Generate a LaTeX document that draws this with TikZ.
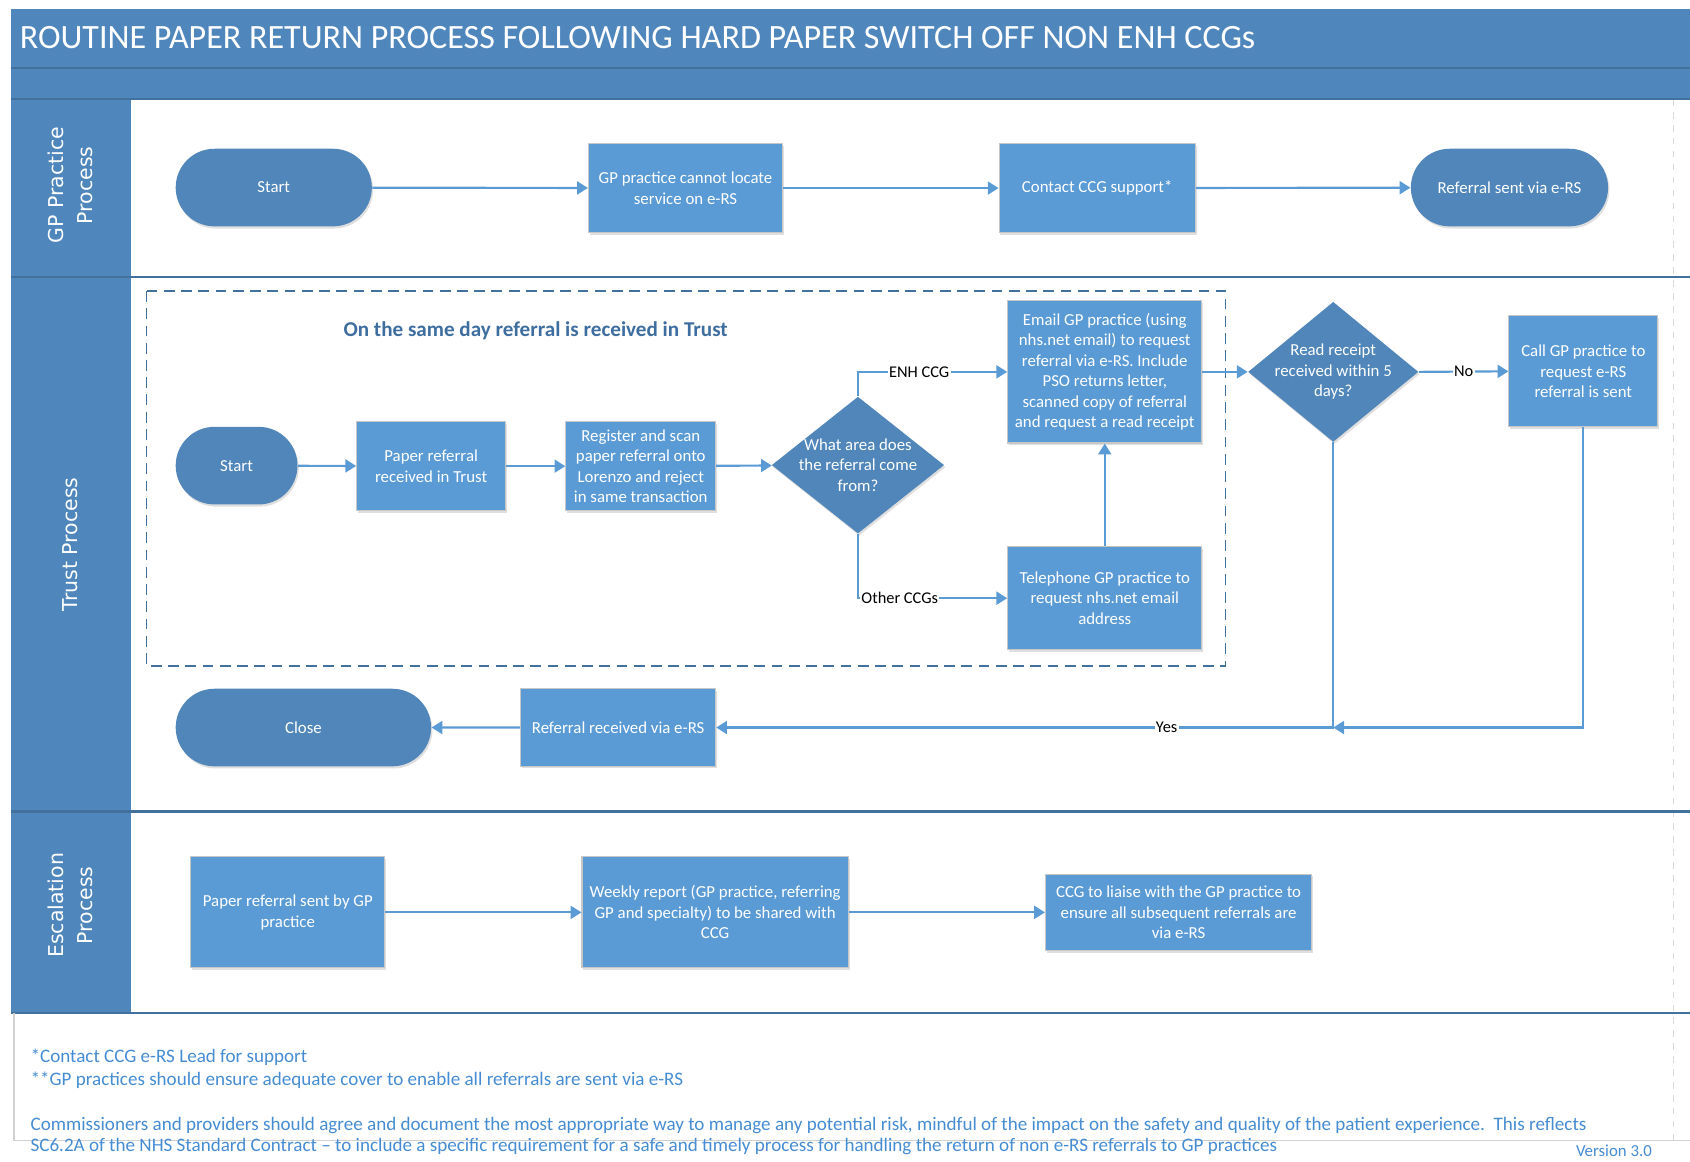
\documentclass[tikz,border=0pt]{standalone}
\usepackage{fontspec}
\setmainfont{Carlito}
\newfontfamily\lanefont{DejaVu Sans}
\usetikzlibrary{shapes.geometric,shapes.misc,arrows.meta,shadows}
\definecolor{band}{RGB}{79,135,189}
\definecolor{boxc}{RGB}{91,155,213}
\definecolor{darkc}{RGB}{80,134,185}
\definecolor{linec}{RGB}{91,155,213}
\definecolor{lanec}{RGB}{65,113,156}
\definecolor{headc}{RGB}{62,110,160}
\definecolor{footc}{RGB}{70,140,210}
\begin{document}
\begin{tikzpicture}[x=0.5pt,y=-0.5pt,
  shad/.style={drop shadow={shadow xshift=0.6pt,shadow yshift=-1pt,opacity=0.25,fill=black!50}},
  proc/.style={rectangle,fill=boxc,draw=black!22,line width=0.5pt,text=white,align=center,
    font=\fontsize{7.8}{9.5}\selectfont,inner sep=0pt,shad},
  term/.style={rounded rectangle,fill=darkc,text=white,align=center,
    font=\fontsize{7.8}{9.5}\selectfont,inner sep=0pt,shad},
  dec/.style={diamond,fill=darkc,inner sep=0pt,shad},
  dectext/.style={text=white,align=center,font=\fontsize{7.8}{9.5}\selectfont,inner sep=0pt},
  conn/.style={draw=linec,line width=1pt,-{Triangle[length=5pt,width=6pt]}},
  plain/.style={draw=linec,line width=1pt},
  clabel/.style={fill=white,inner sep=0.6pt,text=black,font=\fontsize{7.6}{9}\selectfont},
  lanelabel/.style={rotate=90,text=white,align=center,font=\lanefont\fontsize{9.5}{13.5}\selectfont},
  laneline/.style={draw=lanec,line width=1.1pt},
]
\useasboundingbox (0,0) rectangle (1568,1078);
% header bands
\fill[band] (10,8) rectangle (1568,92);
\draw[lanec,line width=0.8pt] (10,63) -- (1568,63);
\node[anchor=west,text=white,font=\fontsize{15.8}{18}\selectfont,inner sep=0pt] (title) at (18,35) {ROUTINE PAPER RETURN PROCESS FOLLOWING HARD PAPER SWITCH OFF NON ENH CCGs};
% lane label column
\fill[band] (10,92) rectangle (122,940);
% right faint border
\draw[black!15,dashed,line width=0.5pt] (1553,92) -- (1553,1058);
% lane lines
\draw[laneline] (10,92) -- (1568,92);
\draw[laneline] (10,257) -- (1568,257);
\draw[laneline] (10,753) -- (1568,753);
\draw[laneline] (10,940) -- (1568,940);
% lane labels
\node[lanelabel] (lgp) at (65,172) {GP Practice\\Process};
\node[lanelabel] (ltr) at (65,505) {Trust Process};
\node[lanelabel] (les) at (65,840) {Escalation\\Process};

% ---------- GP lane
\node[term,minimum width=91pt,minimum height=36pt] (gstart) at (254,174) {Start};
\node[proc,minimum width=90pt,minimum height=41.5pt] (gloc) at (636,174.5) {GP practice cannot locate\\service on e-RS};
\node[proc,minimum width=91pt,minimum height=41.5pt] (gccg) at (1018,174.5) {Contact CCG support*};
\node[term,minimum width=91.5pt,minimum height=36pt] (gsent) at (1400.5,174) {Referral sent via e-RS};
\draw[conn] (gstart) -- (gloc);
\draw[conn] (gloc) -- (gccg);
\draw[conn] (gccg) -- (gsent);

% ---------- Trust lane
\draw[lanec,dashed,line width=0.8pt,dash pattern=on 5pt off 3pt] (136,270) rectangle (1137,618);
\node[text=headc,font=\bfseries\fontsize{9.8}{12}\selectfont] (boxtitle) at (497,307) {On the same day referral is received in Trust};

\node[term,minimum width=56.5pt,minimum height=36pt] (tstart) at (219.5,432) {Start};
\node[proc,minimum width=69pt,minimum height=41.5pt] (tpaper) at (400,432.5) {Paper referral\\received in Trust};
\node[proc,minimum width=69.5pt,minimum height=41.5pt] (treg) at (594.5,432.5) {Register and scan\\paper referral onto\\Lorenzo and reject\\in same transaction};
\node[dec,minimum width=80pt,minimum height=63.5pt] (tarea) at (796,431.5) {};
\node[dectext] (tareat) at (796,431.5) {What area does\\the referral come\\from?};
\node[proc,minimum width=90pt,minimum height=66pt] (temail) at (1025,345) {Email GP practice (using\\nhs.net email) to request\\referral via e-RS. Include\\PSO returns letter,\\scanned copy of referral\\and request a read receipt};
\node[proc,minimum width=90pt,minimum height=48pt] (ttel) at (1025,555) {Telephone GP practice to\\request nhs.net email\\address};
\node[dec,minimum width=79pt,minimum height=65pt] (tread) at (1237,345) {};
\node[dectext] (treadt) at (1237,345) {Read receipt\\received within 5\\days?};
\node[proc,minimum width=69pt,minimum height=51.5pt] (tcall) at (1469,344.5) {Call GP practice to\\request e-RS\\referral is sent};
\node[term,minimum width=118.5pt,minimum height=36pt] (tclose) at (281.5,675) {Close};
\node[proc,minimum width=90.5pt,minimum height=36pt] (trecv) at (573.5,675) {Referral received via e-RS};
\coordinate (yj) at (1237,675);

\draw[conn] (tstart) -- (tpaper);
\draw[conn] (tpaper) -- (treg);
\draw[conn] (treg) -- (tarea);
\draw[conn] (tarea.north) |- node[clabel,pos=0.705] (lenh) {ENH CCG} (temail.west);
\draw[conn] (tarea.south) |- node[clabel,pos=0.64] (loth) {Other CCGs} (ttel.west);
\draw[conn] (ttel) -- (temail);
\draw[conn] (temail.east) -- (tread.west);
\draw[conn] (tread.east) -- node[clabel] (lno) {No} (tcall.west);
\draw[conn] (tread.south) |- node[clabel,pos=0.635] (lyes) {Yes} (trecv.east);
\draw[conn] (tcall.south) |- (yj);
\draw[conn] (trecv) -- (tclose);

% ---------- Escalation lane
\node[proc,minimum width=90pt,minimum height=51.5pt] (epaper) at (267,846.5) {Paper referral sent by GP\\practice};
\node[proc,minimum width=123.5pt,minimum height=51.5pt] (eweek) at (663.5,846.5) {Weekly report (GP practice, referring\\GP and specialty) to be shared with\\CCG};
\node[proc,minimum width=123.5pt,minimum height=35.5pt] (eccg) at (1093.5,846.5) {CCG to liaise with the GP practice to\\ensure all subsequent referrals are\\via e-RS};
\draw[conn] (epaper) -- (eweek);
\draw[conn] (eweek) -- (eccg);

% ---------- footer
\draw[black!18,line width=0.5pt] (13,940) -- (13,1058) -- (1568,1058);
\begin{scope}[every node/.style={anchor=west,text=footc,font=\fontsize{8.85}{10}\selectfont,inner sep=0pt}]
\node (f1) at (28,981) {*Contact CCG e-RS Lead for support};
\node (f2) at (28,1002) {**GP practices should ensure adequate cover to enable all referrals are sent via e-RS};
\node (f3) at (28,1044) {Commissioners and providers should agree and document the most appropriate way to manage any potential risk, mindful of the impact on the safety and quality of the patient experience.\ \ This reflects};
\node (f4) at (28,1064) {SC6.2A of the NHS Standard Contract – to include a specific requirement for a safe and timely process for handling the return of non e-RS referrals to GP practices};
\end{scope}
\node[anchor=east,text=footc,font=\fontsize{7.8}{9}\selectfont,inner sep=0pt] (ver) at (1533,1068) {Version 3.0};
\end{tikzpicture}
\end{document}
